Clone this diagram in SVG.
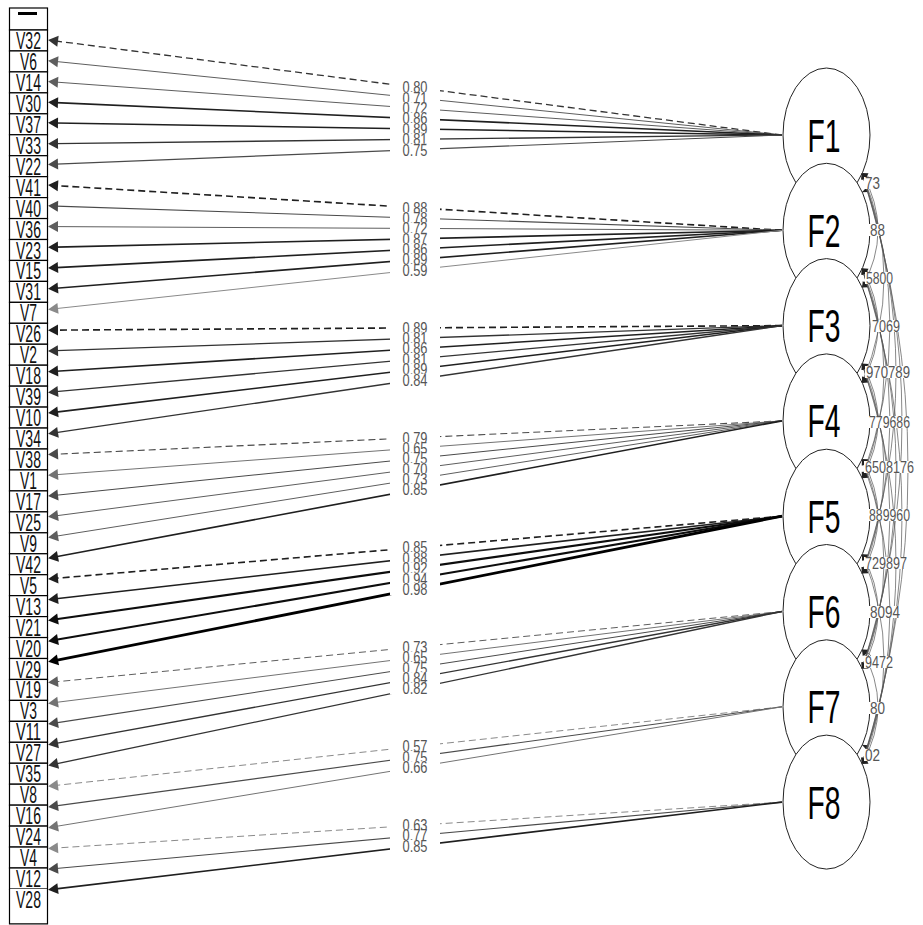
<svg xmlns="http://www.w3.org/2000/svg" width="923" height="925" viewBox="0 0 923 925">
<style>
text{font-family:"Liberation Sans",Arial,sans-serif}
.box{fill:#fff;stroke:#000;stroke-width:1.2}
.vt{font-size:24px;fill:#111;text-anchor:middle}
.fe{fill:#fff;stroke:#222;stroke-width:1}
.ft{font-size:46px;fill:#000;text-anchor:middle}
.lb{fill:#fff}
.lt{font-size:16.5px;fill:#555;text-anchor:middle}
.ct{font-size:16.5px;fill:#555;text-anchor:middle}
.e{fill:none}
.d{stroke-dasharray:7 4}
.L1{stroke:#000;stroke-width:2.8;marker-end:url(#m1)}
.L2{stroke:#0d0d0d;stroke-width:2.1;marker-end:url(#m2)}
.L3{stroke:#1f1f1f;stroke-width:1.6;marker-end:url(#m3)}
.L4{stroke:#333;stroke-width:1.3;marker-end:url(#m4)}
.L5{stroke:#4a4a4a;stroke-width:1.1;marker-end:url(#m5)}
.L6{stroke:#5e5e5e;stroke-width:1;marker-end:url(#m6)}
.L7{stroke:#737373;stroke-width:1;marker-end:url(#m7)}
.L8{stroke:#8a8a8a;stroke-width:1;marker-end:url(#m8)}
.cv{fill:none;stroke:#555;stroke-width:0.7;marker-start:url(#mc);marker-end:url(#mc)}
</style>
<defs>
<marker id="m1" markerUnits="userSpaceOnUse" markerWidth="10" markerHeight="11" refX="2" refY="5.5" orient="auto" overflow="visible"><path d="M0,0 L10,5.5 L0,11 z" fill="#000"/></marker>
<marker id="m2" markerUnits="userSpaceOnUse" markerWidth="10" markerHeight="11" refX="2" refY="5.5" orient="auto" overflow="visible"><path d="M0,0 L10,5.5 L0,11 z" fill="#0d0d0d"/></marker>
<marker id="m3" markerUnits="userSpaceOnUse" markerWidth="10" markerHeight="11" refX="2" refY="5.5" orient="auto" overflow="visible"><path d="M0,0 L10,5.5 L0,11 z" fill="#1f1f1f"/></marker>
<marker id="m4" markerUnits="userSpaceOnUse" markerWidth="10" markerHeight="11" refX="2" refY="5.5" orient="auto" overflow="visible"><path d="M0,0 L10,5.5 L0,11 z" fill="#333"/></marker>
<marker id="m5" markerUnits="userSpaceOnUse" markerWidth="10" markerHeight="11" refX="2" refY="5.5" orient="auto" overflow="visible"><path d="M0,0 L10,5.5 L0,11 z" fill="#4a4a4a"/></marker>
<marker id="m6" markerUnits="userSpaceOnUse" markerWidth="10" markerHeight="11" refX="2" refY="5.5" orient="auto" overflow="visible"><path d="M0,0 L10,5.5 L0,11 z" fill="#5e5e5e"/></marker>
<marker id="m7" markerUnits="userSpaceOnUse" markerWidth="10" markerHeight="11" refX="2" refY="5.5" orient="auto" overflow="visible"><path d="M0,0 L10,5.5 L0,11 z" fill="#737373"/></marker>
<marker id="m8" markerUnits="userSpaceOnUse" markerWidth="10" markerHeight="11" refX="2" refY="5.5" orient="auto" overflow="visible"><path d="M0,0 L10,5.5 L0,11 z" fill="#8a8a8a"/></marker>
<marker id="mc" markerUnits="userSpaceOnUse" markerWidth="6" markerHeight="5" refX="6" refY="2.5" orient="auto-start-reverse" overflow="visible"><path d="M0,0 L6,2.5 L0,5 z" fill="#222"/></marker>
</defs>
<rect width="923" height="925" fill="#fff"/>

<g id="variables">
<g id="top"><rect class="box" x="9.5" y="8" width="38" height="22"/><rect x="18" y="12" width="19" height="3" fill="#000"/></g>
<g id="V32"><rect class="box" x="9.5" y="30" width="38" height="20.95"/><text class="vt" x="28.5" y="49" textLength="25" lengthAdjust="spacingAndGlyphs">V32</text></g>
<g id="V6"><rect class="box" x="9.5" y="50.95" width="38" height="20.95"/><text class="vt" x="28.5" y="70" textLength="17" lengthAdjust="spacingAndGlyphs">V6</text></g>
<g id="V14"><rect class="box" x="9.5" y="71.9" width="38" height="20.95"/><text class="vt" x="28.5" y="90.9" textLength="25" lengthAdjust="spacingAndGlyphs">V14</text></g>
<g id="V30"><rect class="box" x="9.5" y="92.85" width="38" height="20.95"/><text class="vt" x="28.5" y="111.85" textLength="25" lengthAdjust="spacingAndGlyphs">V30</text></g>
<g id="V37"><rect class="box" x="9.5" y="113.8" width="38" height="20.95"/><text class="vt" x="28.5" y="132.8" textLength="25" lengthAdjust="spacingAndGlyphs">V37</text></g>
<g id="V33"><rect class="box" x="9.5" y="134.75" width="38" height="20.95"/><text class="vt" x="28.5" y="153.75" textLength="25" lengthAdjust="spacingAndGlyphs">V33</text></g>
<g id="V22"><rect class="box" x="9.5" y="155.7" width="38" height="20.95"/><text class="vt" x="28.5" y="174.7" textLength="25" lengthAdjust="spacingAndGlyphs">V22</text></g>
<g id="V41"><rect class="box" x="9.5" y="176.65" width="38" height="20.95"/><text class="vt" x="28.5" y="195.65" textLength="25" lengthAdjust="spacingAndGlyphs">V41</text></g>
<g id="V40"><rect class="box" x="9.5" y="197.6" width="38" height="20.95"/><text class="vt" x="28.5" y="216.6" textLength="25" lengthAdjust="spacingAndGlyphs">V40</text></g>
<g id="V36"><rect class="box" x="9.5" y="218.55" width="38" height="20.95"/><text class="vt" x="28.5" y="237.55" textLength="25" lengthAdjust="spacingAndGlyphs">V36</text></g>
<g id="V23"><rect class="box" x="9.5" y="239.5" width="38" height="20.95"/><text class="vt" x="28.5" y="258.5" textLength="25" lengthAdjust="spacingAndGlyphs">V23</text></g>
<g id="V15"><rect class="box" x="9.5" y="260.45" width="38" height="20.95"/><text class="vt" x="28.5" y="279.45" textLength="25" lengthAdjust="spacingAndGlyphs">V15</text></g>
<g id="V31"><rect class="box" x="9.5" y="281.4" width="38" height="20.95"/><text class="vt" x="28.5" y="300.4" textLength="25" lengthAdjust="spacingAndGlyphs">V31</text></g>
<g id="V7"><rect class="box" x="9.5" y="302.35" width="38" height="20.95"/><text class="vt" x="28.5" y="321.35" textLength="17" lengthAdjust="spacingAndGlyphs">V7</text></g>
<g id="V26"><rect class="box" x="9.5" y="323.3" width="38" height="20.95"/><text class="vt" x="28.5" y="342.3" textLength="25" lengthAdjust="spacingAndGlyphs">V26</text></g>
<g id="V2"><rect class="box" x="9.5" y="344.25" width="38" height="20.95"/><text class="vt" x="28.5" y="363.25" textLength="17" lengthAdjust="spacingAndGlyphs">V2</text></g>
<g id="V18"><rect class="box" x="9.5" y="365.2" width="38" height="20.95"/><text class="vt" x="28.5" y="384.2" textLength="25" lengthAdjust="spacingAndGlyphs">V18</text></g>
<g id="V39"><rect class="box" x="9.5" y="386.15" width="38" height="20.95"/><text class="vt" x="28.5" y="405.15" textLength="25" lengthAdjust="spacingAndGlyphs">V39</text></g>
<g id="V10"><rect class="box" x="9.5" y="407.1" width="38" height="20.95"/><text class="vt" x="28.5" y="426.1" textLength="25" lengthAdjust="spacingAndGlyphs">V10</text></g>
<g id="V34"><rect class="box" x="9.5" y="428.05" width="38" height="20.95"/><text class="vt" x="28.5" y="447.05" textLength="25" lengthAdjust="spacingAndGlyphs">V34</text></g>
<g id="V38"><rect class="box" x="9.5" y="449" width="38" height="20.95"/><text class="vt" x="28.5" y="468" textLength="25" lengthAdjust="spacingAndGlyphs">V38</text></g>
<g id="V1"><rect class="box" x="9.5" y="469.95" width="38" height="20.95"/><text class="vt" x="28.5" y="488.95" textLength="17" lengthAdjust="spacingAndGlyphs">V1</text></g>
<g id="V17"><rect class="box" x="9.5" y="490.9" width="38" height="20.95"/><text class="vt" x="28.5" y="509.9" textLength="25" lengthAdjust="spacingAndGlyphs">V17</text></g>
<g id="V25"><rect class="box" x="9.5" y="511.85" width="38" height="20.95"/><text class="vt" x="28.5" y="530.85" textLength="25" lengthAdjust="spacingAndGlyphs">V25</text></g>
<g id="V9"><rect class="box" x="9.5" y="532.8" width="38" height="20.95"/><text class="vt" x="28.5" y="551.8" textLength="17" lengthAdjust="spacingAndGlyphs">V9</text></g>
<g id="V42"><rect class="box" x="9.5" y="553.75" width="38" height="20.95"/><text class="vt" x="28.5" y="572.75" textLength="25" lengthAdjust="spacingAndGlyphs">V42</text></g>
<g id="V5"><rect class="box" x="9.5" y="574.7" width="38" height="20.95"/><text class="vt" x="28.5" y="593.7" textLength="17" lengthAdjust="spacingAndGlyphs">V5</text></g>
<g id="V13"><rect class="box" x="9.5" y="595.65" width="38" height="20.95"/><text class="vt" x="28.5" y="614.65" textLength="25" lengthAdjust="spacingAndGlyphs">V13</text></g>
<g id="V21"><rect class="box" x="9.5" y="616.6" width="38" height="20.95"/><text class="vt" x="28.5" y="635.6" textLength="25" lengthAdjust="spacingAndGlyphs">V21</text></g>
<g id="V20"><rect class="box" x="9.5" y="637.55" width="38" height="20.95"/><text class="vt" x="28.5" y="656.55" textLength="25" lengthAdjust="spacingAndGlyphs">V20</text></g>
<g id="V29"><rect class="box" x="9.5" y="658.5" width="38" height="20.95"/><text class="vt" x="28.5" y="677.5" textLength="25" lengthAdjust="spacingAndGlyphs">V29</text></g>
<g id="V19"><rect class="box" x="9.5" y="679.45" width="38" height="20.95"/><text class="vt" x="28.5" y="698.45" textLength="25" lengthAdjust="spacingAndGlyphs">V19</text></g>
<g id="V3"><rect class="box" x="9.5" y="700.4" width="38" height="20.95"/><text class="vt" x="28.5" y="719.4" textLength="17" lengthAdjust="spacingAndGlyphs">V3</text></g>
<g id="V11"><rect class="box" x="9.5" y="721.35" width="38" height="20.95"/><text class="vt" x="28.5" y="740.35" textLength="25" lengthAdjust="spacingAndGlyphs">V11</text></g>
<g id="V27"><rect class="box" x="9.5" y="742.3" width="38" height="20.95"/><text class="vt" x="28.5" y="761.3" textLength="25" lengthAdjust="spacingAndGlyphs">V27</text></g>
<g id="V35"><rect class="box" x="9.5" y="763.25" width="38" height="20.95"/><text class="vt" x="28.5" y="782.25" textLength="25" lengthAdjust="spacingAndGlyphs">V35</text></g>
<g id="V8"><rect class="box" x="9.5" y="784.2" width="38" height="20.95"/><text class="vt" x="28.5" y="803.2" textLength="17" lengthAdjust="spacingAndGlyphs">V8</text></g>
<g id="V16"><rect class="box" x="9.5" y="805.15" width="38" height="20.95"/><text class="vt" x="28.5" y="824.15" textLength="25" lengthAdjust="spacingAndGlyphs">V16</text></g>
<g id="V24"><rect class="box" x="9.5" y="826.1" width="38" height="20.95"/><text class="vt" x="28.5" y="845.1" textLength="25" lengthAdjust="spacingAndGlyphs">V24</text></g>
<g id="V4"><rect class="box" x="9.5" y="847.05" width="38" height="20.95"/><text class="vt" x="28.5" y="866.05" textLength="17" lengthAdjust="spacingAndGlyphs">V4</text></g>
<g id="V12"><rect class="box" x="9.5" y="868" width="38" height="20.95"/><text class="vt" x="28.5" y="887" textLength="25" lengthAdjust="spacingAndGlyphs">V12</text></g>
<g id="V28"><path class="box" d="M9.5,888.95 V923.95 H47.5 V888.95"/><text class="vt" x="28.5" y="907.95" textLength="25" lengthAdjust="spacingAndGlyphs">V28</text></g>
</g>

<g id="connectors">
<g id="loadings">
<line class="e L4 d" x1="782" y1="135" x2="56" y2="41"/>
<line class="e L6" x1="782" y1="135" x2="56" y2="61.5"/>
<line class="e L6" x1="782" y1="135" x2="56" y2="82.1"/>
<line class="e L3" x1="782" y1="135" x2="56" y2="102.6"/>
<line class="e L3" x1="782" y1="135" x2="56" y2="123"/>
<line class="e L4" x1="782" y1="135" x2="56" y2="143.6"/>
<line class="e L5" x1="782" y1="135" x2="56" y2="164.1"/>
<line class="e L3 d" x1="782" y1="230.3" x2="56" y2="185.6"/>
<line class="e L5" x1="782" y1="230.3" x2="56" y2="206.1"/>
<line class="e L6" x1="782" y1="230.3" x2="56" y2="226.6"/>
<line class="e L3" x1="782" y1="230.3" x2="56" y2="247.1"/>
<line class="e L3" x1="782" y1="230.3" x2="56" y2="267.6"/>
<line class="e L3" x1="782" y1="230.3" x2="56" y2="288.2"/>
<line class="e L8" x1="782" y1="230.3" x2="56" y2="308.6"/>
<line class="e L3 d" x1="782" y1="325.6" x2="56" y2="330.1"/>
<line class="e L4" x1="782" y1="325.6" x2="56" y2="350.7"/>
<line class="e L3" x1="782" y1="325.6" x2="56" y2="371.2"/>
<line class="e L4" x1="782" y1="325.6" x2="56" y2="391.7"/>
<line class="e L3" x1="782" y1="325.6" x2="56" y2="412.1"/>
<line class="e L4" x1="782" y1="325.6" x2="56" y2="432.7"/>
<line class="e L5 d" x1="782" y1="420.9" x2="56" y2="454.2"/>
<line class="e L7" x1="782" y1="420.9" x2="56" y2="474.7"/>
<line class="e L5" x1="782" y1="420.9" x2="56" y2="495.3"/>
<line class="e L6" x1="782" y1="420.9" x2="56" y2="515.8"/>
<line class="e L6" x1="782" y1="420.9" x2="56" y2="536.2"/>
<line class="e L3" x1="782" y1="420.9" x2="56" y2="556.8"/>
<line class="e L3 d" x1="782" y1="516.2" x2="56" y2="578.3"/>
<line class="e L3" x1="782" y1="516.2" x2="56" y2="598.8"/>
<line class="e L2" x1="782" y1="516.2" x2="56" y2="619.3"/>
<line class="e L2" x1="782" y1="516.2" x2="56" y2="639.8"/>
<line class="e L1" x1="782" y1="516.2" x2="56" y2="660.3"/>
<line class="e L6 d" x1="782" y1="611.5" x2="56" y2="681.8"/>
<line class="e L7" x1="782" y1="611.5" x2="56" y2="702.4"/>
<line class="e L5" x1="782" y1="611.5" x2="56" y2="722.9"/>
<line class="e L4" x1="782" y1="611.5" x2="56" y2="743.3"/>
<line class="e L4" x1="782" y1="611.5" x2="56" y2="763.9"/>
<line class="e L8 d" x1="782" y1="706.8" x2="56" y2="785.4"/>
<line class="e L5" x1="782" y1="706.8" x2="56" y2="805.9"/>
<line class="e L7" x1="782" y1="706.8" x2="56" y2="826.4"/>
<line class="e L8 d" x1="782" y1="802.1" x2="56" y2="848"/>
<line class="e L5" x1="782" y1="802.1" x2="56" y2="868.5"/>
<line class="e L3" x1="782" y1="802.1" x2="56" y2="888.9"/>
</g>
</g>

<g id="factors">
<g id="F1"><ellipse class="fe" cx="826.5" cy="135" rx="43.5" ry="67"/><text class="ft" x="824" y="151.5" textLength="33" lengthAdjust="spacingAndGlyphs">F1</text></g>
<g id="F2"><ellipse class="fe" cx="826.5" cy="230.3" rx="43.5" ry="67"/><text class="ft" x="824" y="246.8" textLength="33" lengthAdjust="spacingAndGlyphs">F2</text></g>
<g id="F3"><ellipse class="fe" cx="826.5" cy="325.6" rx="43.5" ry="67"/><text class="ft" x="824" y="342.1" textLength="33" lengthAdjust="spacingAndGlyphs">F3</text></g>
<g id="F4"><ellipse class="fe" cx="826.5" cy="420.9" rx="43.5" ry="67"/><text class="ft" x="824" y="437.4" textLength="33" lengthAdjust="spacingAndGlyphs">F4</text></g>
<g id="F5"><ellipse class="fe" cx="826.5" cy="516.2" rx="43.5" ry="67"/><text class="ft" x="824" y="532.7" textLength="33" lengthAdjust="spacingAndGlyphs">F5</text></g>
<g id="F6"><ellipse class="fe" cx="826.5" cy="611.5" rx="43.5" ry="67"/><text class="ft" x="824" y="628" textLength="33" lengthAdjust="spacingAndGlyphs">F6</text></g>
<g id="F7"><ellipse class="fe" cx="826.5" cy="706.8" rx="43.5" ry="67"/><text class="ft" x="824" y="723.3" textLength="33" lengthAdjust="spacingAndGlyphs">F7</text></g>
<g id="F8"><ellipse class="fe" cx="826.5" cy="802.1" rx="43.5" ry="67"/><text class="ft" x="824" y="818.6" textLength="33" lengthAdjust="spacingAndGlyphs">F8</text></g>
</g>

<g id="connectors-cov">
<path class="cv" d="M862,173 Q882,182.65 862,192.3"/>
<path class="cv" d="M862,268.3 Q882,277.95 862,287.6"/>
<path class="cv" d="M862,363.6 Q882,373.25 862,382.9"/>
<path class="cv" d="M862,458.9 Q882,468.55 862,478.2"/>
<path class="cv" d="M862,554.2 Q882,563.85 862,573.5"/>
<path class="cv" d="M862,649.5 Q882,659.15 862,668.8"/>
<path class="cv" d="M862,744.8 Q882,754.45 862,764.1"/>
<path class="cv" d="M862,173 Q894,230.3 862,287.6"/>
<path class="cv" d="M862,268.3 Q894,325.6 862,382.9"/>
<path class="cv" d="M862,363.6 Q894,420.9 862,478.2"/>
<path class="cv" d="M862,458.9 Q894,516.2 862,573.5"/>
<path class="cv" d="M862,554.2 Q894,611.5 862,668.8"/>
<path class="cv" d="M862,649.5 Q894,706.8 862,764.1"/>
<path class="cv" d="M862,173 Q906,277.95 862,382.9"/>
<path class="cv" d="M862,268.3 Q906,373.25 862,478.2"/>
<path class="cv" d="M862,363.6 Q906,468.55 862,573.5"/>
<path class="cv" d="M862,458.9 Q906,563.85 862,668.8"/>
<path class="cv" d="M862,554.2 Q906,659.15 862,764.1"/>
<path class="cv" d="M862,173 Q918,325.6 862,478.2"/>
<path class="cv" d="M862,268.3 Q918,420.9 862,573.5"/>
<path class="cv" d="M862,363.6 Q918,516.2 862,668.8"/>
<path class="cv" d="M862,458.9 Q918,611.5 862,764.1"/>
<path class="cv" d="M862,173 Q930,373.25 862,573.5"/>
<path class="cv" d="M862,268.3 Q930,468.55 862,668.8"/>
<path class="cv" d="M862,363.6 Q930,563.85 862,764.1"/>
<path class="cv" d="M862,173 Q942,420.9 862,668.8"/>
<path class="cv" d="M862,268.3 Q942,516.2 862,764.1"/>
<path class="cv" d="M862,173 Q954,468.55 862,764.1"/>
</g>

<g id="loading-labels">
<rect class="lb" x="390" y="81.5" width="50" height="12"/><text class="lt" x="415" y="93.3" textLength="25" lengthAdjust="spacingAndGlyphs">0.80</text>
<rect class="lb" x="390" y="91.85" width="50" height="12"/><text class="lt" x="415" y="103.65" textLength="25" lengthAdjust="spacingAndGlyphs">0.71</text>
<rect class="lb" x="390" y="102.25" width="50" height="12"/><text class="lt" x="415" y="114.05" textLength="25" lengthAdjust="spacingAndGlyphs">0.72</text>
<rect class="lb" x="390" y="112.6" width="50" height="12"/><text class="lt" x="415" y="124.4" textLength="25" lengthAdjust="spacingAndGlyphs">0.86</text>
<rect class="lb" x="390" y="122.95" width="50" height="12"/><text class="lt" x="415" y="134.75" textLength="25" lengthAdjust="spacingAndGlyphs">0.89</text>
<rect class="lb" x="390" y="133.35" width="50" height="12"/><text class="lt" x="415" y="145.15" textLength="25" lengthAdjust="spacingAndGlyphs">0.81</text>
<rect class="lb" x="390" y="143.7" width="50" height="12"/><text class="lt" x="415" y="155.5" textLength="25" lengthAdjust="spacingAndGlyphs">0.75</text>
<rect class="lb" x="390" y="201.7" width="50" height="12"/><text class="lt" x="415" y="213.5" textLength="25" lengthAdjust="spacingAndGlyphs">0.88</text>
<rect class="lb" x="390" y="212.05" width="50" height="12"/><text class="lt" x="415" y="223.85" textLength="25" lengthAdjust="spacingAndGlyphs">0.78</text>
<rect class="lb" x="390" y="222.45" width="50" height="12"/><text class="lt" x="415" y="234.25" textLength="25" lengthAdjust="spacingAndGlyphs">0.72</text>
<rect class="lb" x="390" y="232.8" width="50" height="12"/><text class="lt" x="415" y="244.6" textLength="25" lengthAdjust="spacingAndGlyphs">0.87</text>
<rect class="lb" x="390" y="243.15" width="50" height="12"/><text class="lt" x="415" y="254.95" textLength="25" lengthAdjust="spacingAndGlyphs">0.86</text>
<rect class="lb" x="390" y="253.55" width="50" height="12"/><text class="lt" x="415" y="265.35" textLength="25" lengthAdjust="spacingAndGlyphs">0.89</text>
<rect class="lb" x="390" y="263.9" width="50" height="12"/><text class="lt" x="415" y="275.7" textLength="25" lengthAdjust="spacingAndGlyphs">0.59</text>
<rect class="lb" x="390" y="321.9" width="50" height="12"/><text class="lt" x="415" y="333.7" textLength="25" lengthAdjust="spacingAndGlyphs">0.89</text>
<rect class="lb" x="390" y="332.3" width="50" height="12"/><text class="lt" x="415" y="344.1" textLength="25" lengthAdjust="spacingAndGlyphs">0.81</text>
<rect class="lb" x="390" y="342.65" width="50" height="12"/><text class="lt" x="415" y="354.45" textLength="25" lengthAdjust="spacingAndGlyphs">0.86</text>
<rect class="lb" x="390" y="353" width="50" height="12"/><text class="lt" x="415" y="364.8" textLength="25" lengthAdjust="spacingAndGlyphs">0.81</text>
<rect class="lb" x="390" y="363.35" width="50" height="12"/><text class="lt" x="415" y="375.15" textLength="25" lengthAdjust="spacingAndGlyphs">0.89</text>
<rect class="lb" x="390" y="373.75" width="50" height="12"/><text class="lt" x="415" y="385.55" textLength="25" lengthAdjust="spacingAndGlyphs">0.84</text>
<rect class="lb" x="390" y="431.75" width="50" height="12"/><text class="lt" x="415" y="443.55" textLength="25" lengthAdjust="spacingAndGlyphs">0.79</text>
<rect class="lb" x="390" y="442.1" width="50" height="12"/><text class="lt" x="415" y="453.9" textLength="25" lengthAdjust="spacingAndGlyphs">0.65</text>
<rect class="lb" x="390" y="452.5" width="50" height="12"/><text class="lt" x="415" y="464.3" textLength="25" lengthAdjust="spacingAndGlyphs">0.75</text>
<rect class="lb" x="390" y="462.85" width="50" height="12"/><text class="lt" x="415" y="474.65" textLength="25" lengthAdjust="spacingAndGlyphs">0.70</text>
<rect class="lb" x="390" y="473.2" width="50" height="12"/><text class="lt" x="415" y="485" textLength="25" lengthAdjust="spacingAndGlyphs">0.73</text>
<rect class="lb" x="390" y="483.6" width="50" height="12"/><text class="lt" x="415" y="495.4" textLength="25" lengthAdjust="spacingAndGlyphs">0.85</text>
<rect class="lb" x="390" y="541.6" width="50" height="12"/><text class="lt" x="415" y="553.4" textLength="25" lengthAdjust="spacingAndGlyphs">0.85</text>
<rect class="lb" x="390" y="551.95" width="50" height="12"/><text class="lt" x="415" y="563.75" textLength="25" lengthAdjust="spacingAndGlyphs">0.88</text>
<rect class="lb" x="390" y="562.3" width="50" height="12"/><text class="lt" x="415" y="574.1" textLength="25" lengthAdjust="spacingAndGlyphs">0.92</text>
<rect class="lb" x="390" y="572.7" width="50" height="12"/><text class="lt" x="415" y="584.5" textLength="25" lengthAdjust="spacingAndGlyphs">0.94</text>
<rect class="lb" x="390" y="583.05" width="50" height="12"/><text class="lt" x="415" y="594.85" textLength="25" lengthAdjust="spacingAndGlyphs">0.98</text>
<rect class="lb" x="390" y="641.05" width="50" height="12"/><text class="lt" x="415" y="652.85" textLength="25" lengthAdjust="spacingAndGlyphs">0.73</text>
<rect class="lb" x="390" y="651.45" width="50" height="12"/><text class="lt" x="415" y="663.25" textLength="25" lengthAdjust="spacingAndGlyphs">0.65</text>
<rect class="lb" x="390" y="661.8" width="50" height="12"/><text class="lt" x="415" y="673.6" textLength="25" lengthAdjust="spacingAndGlyphs">0.75</text>
<rect class="lb" x="390" y="672.15" width="50" height="12"/><text class="lt" x="415" y="683.95" textLength="25" lengthAdjust="spacingAndGlyphs">0.84</text>
<rect class="lb" x="390" y="682.55" width="50" height="12"/><text class="lt" x="415" y="694.35" textLength="25" lengthAdjust="spacingAndGlyphs">0.82</text>
<rect class="lb" x="390" y="740.55" width="50" height="12"/><text class="lt" x="415" y="752.35" textLength="25" lengthAdjust="spacingAndGlyphs">0.57</text>
<rect class="lb" x="390" y="750.9" width="50" height="12"/><text class="lt" x="415" y="762.7" textLength="25" lengthAdjust="spacingAndGlyphs">0.75</text>
<rect class="lb" x="390" y="761.25" width="50" height="12"/><text class="lt" x="415" y="773.05" textLength="25" lengthAdjust="spacingAndGlyphs">0.66</text>
<rect class="lb" x="390" y="819.3" width="50" height="12"/><text class="lt" x="415" y="831.1" textLength="25" lengthAdjust="spacingAndGlyphs">0.63</text>
<rect class="lb" x="390" y="829.65" width="50" height="12"/><text class="lt" x="415" y="841.45" textLength="25" lengthAdjust="spacingAndGlyphs">0.77</text>
<rect class="lb" x="390" y="840" width="50" height="12"/><text class="lt" x="415" y="851.8" textLength="25" lengthAdjust="spacingAndGlyphs">0.85</text>
</g>

<g id="cov-labels">
<rect class="lb" x="864" y="177" width="17" height="12"/><text class="ct" x="872.5" y="188.8" textLength="15" lengthAdjust="spacingAndGlyphs">73</text>
<rect class="lb" x="869" y="224" width="17" height="12"/><text class="ct" x="877.5" y="235.8" textLength="15" lengthAdjust="spacingAndGlyphs">88</text>
<rect class="lb" x="865" y="272" width="29" height="12"/><text class="ct" x="879.5" y="283.8" textLength="27" lengthAdjust="spacingAndGlyphs">5800</text>
<rect class="lb" x="871" y="320" width="30" height="12"/><text class="ct" x="886" y="331.8" textLength="28" lengthAdjust="spacingAndGlyphs">7069</text>
<rect class="lb" x="865" y="366" width="46" height="12"/><text class="ct" x="888" y="377.8" textLength="44" lengthAdjust="spacingAndGlyphs">970789</text>
<rect class="lb" x="868" y="416" width="43" height="12"/><text class="ct" x="889.5" y="427.8" textLength="41" lengthAdjust="spacingAndGlyphs">779686</text>
<rect class="lb" x="864" y="461" width="51" height="12"/><text class="ct" x="889.5" y="472.8" textLength="49" lengthAdjust="spacingAndGlyphs">6508176</text>
<rect class="lb" x="868" y="509" width="43" height="12"/><text class="ct" x="889.5" y="520.8" textLength="41" lengthAdjust="spacingAndGlyphs">889960</text>
<rect class="lb" x="864" y="557" width="44" height="12"/><text class="ct" x="886" y="568.8" textLength="42" lengthAdjust="spacingAndGlyphs">729897</text>
<rect class="lb" x="869" y="606" width="32" height="12"/><text class="ct" x="885" y="617.8" textLength="30" lengthAdjust="spacingAndGlyphs">8094</text>
<rect class="lb" x="864" y="656" width="30" height="12"/><text class="ct" x="879" y="667.8" textLength="28" lengthAdjust="spacingAndGlyphs">9472</text>
<rect class="lb" x="869" y="702" width="17" height="12"/><text class="ct" x="877.5" y="713.8" textLength="15" lengthAdjust="spacingAndGlyphs">80</text>
<rect class="lb" x="864" y="749" width="17" height="12"/><text class="ct" x="872.5" y="760.8" textLength="15" lengthAdjust="spacingAndGlyphs">02</text>
</g>
</svg>
